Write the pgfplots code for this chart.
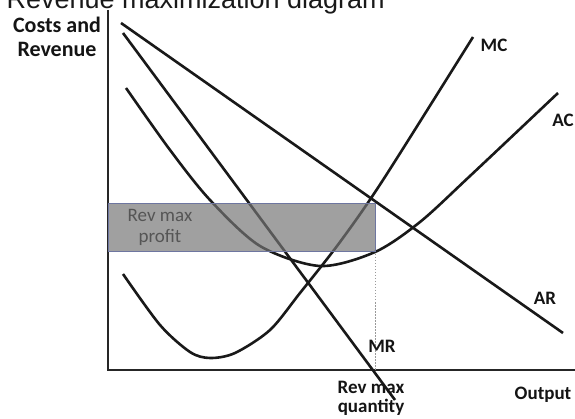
\documentclass[border=0pt]{standalone}
\usepackage{fontspec}
\setmainfont{Carlito}
\newfontfamily\titlefont{Liberation Sans}
\usepackage{pgfplots}
\pgfplotsset{compat=1.18}
\definecolor{rectfill}{RGB}{117,117,117}
\definecolor{rectdraw}{RGB}{110,118,160}
\definecolor{lbl}{RGB}{20,20,20}
\definecolor{rtext}{RGB}{85,85,85}
\begin{document}
\begin{tikzpicture}
\begin{axis}[at={(0,0)},anchor=south west,scale only axis,width=575pt,height=419pt,
  xmin=0,xmax=575,ymin=0,ymax=419,y dir=reverse,hide axis,clip=false]
\pgfplotsset{cv/.style={line width=2.6pt,black!90,no marks}}
% axes
\addplot[cv,line width=2.8pt,black!85] coordinates {(108,10)(108,370)(575,370)};
% AR
\addplot[cv] coordinates {(121,23)(563,333)};
% MR
\addplot[cv] coordinates {(123,33)(395,400)};
% MC
\addplot[cv,smooth,tension=0.5] coordinates {(123,274)(160,325)(190,352)(210,358)(235,353)(270,330)(300,293)(340,242)(383,180)(473,37)};
% AC
\addplot[cv,smooth,tension=0.5] coordinates {(126,88)(170,150)(210,200)(260,246)(320,266)(375,252)(420,222)(470,176)(558,93)};
% dotted
\addplot[no marks,line width=0.6pt,gray!80,dash pattern=on 1.5pt off 1.5pt] coordinates {(375,251)(375,370)};
% rectangle
\addplot[no marks,line width=0.8pt,draw=rectdraw,fill=rectfill,fill opacity=0.69] coordinates {(108,203)(375,203)(375,251)(108,251)} --cycle;
% texts
\node[anchor=base west,font=\titlefont\fontsize{27}{30}\selectfont,text=black!90] at (axis cs:3,9) {Revenue maximization diagram};
\begin{scope}[every node/.style={font=\bfseries\fontsize{19}{22}\selectfont,text=lbl,inner sep=0pt}]
\node[font=\bfseries\fontsize{22}{24}\selectfont] at (axis cs:57,25) {Costs and};
\node[font=\bfseries\fontsize{22}{24}\selectfont] at (axis cs:57,49) {Revenue};
\node at (axis cs:494,45) {MC};
\node at (axis cs:563,120) {AC};
\node at (axis cs:545,298) {AR};
\node at (axis cs:382,346) {MR};
\node at (axis cs:371,387) {Rev max};
\node at (axis cs:371,407) {quantity};
\node at (axis cs:543,395) {Output};
\end{scope}
\node[font=\fontsize{19}{22}\selectfont,text=rtext,inner sep=0pt] at (axis cs:160,215) {Rev max};
\node[font=\fontsize{19}{22}\selectfont,text=rtext,inner sep=0pt] at (axis cs:160,237) {profit};
\end{axis}
\pgfresetboundingbox
\path[use as bounding box] (0,0) rectangle (575pt,419pt);
\end{tikzpicture}
\end{document}
